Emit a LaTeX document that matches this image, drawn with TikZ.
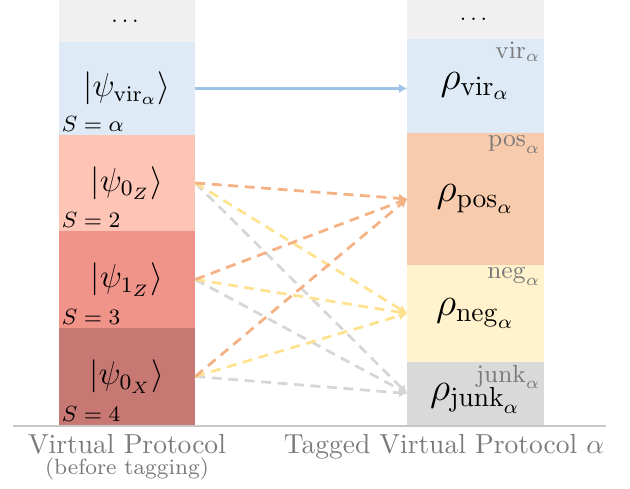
\documentclass[tikz,border=0pt]{standalone}
\usepackage{amsmath, amssymb}
\usepackage{tikz}
\usetikzlibrary{positioning, arrows.meta}
\definecolor{dotsgray}{RGB}{240,240,240}
\definecolor{virblue}{RGB}{222,234,246}
\definecolor{zerozred}{RGB}{254,196,181}
\definecolor{onezred}{RGB}{240,147,137}
\definecolor{zeroxred}{RGB}{200,120,115}
\definecolor{posorange}{RGB}{248,203,173}
\definecolor{negyellow}{RGB}{255,242,204}
\definecolor{junkgray}{RGB}{217,217,217}
\definecolor{virline}{RGB}{157,195,230}
\definecolor{posline}{RGB}{244,177,131}
\definecolor{negline}{RGB}{255,226,143}
\definecolor{junkline}{RGB}{214,214,214}
\definecolor{axisgray}{RGB}{200,200,200}
\definecolor{labelgray}{RGB}{122,122,122}

\begin{document}
\begin{tikzpicture}[>={Latex[length=3pt,width=3.4pt]},
  band/.style={inner sep=0pt, outer sep=0pt, minimum width=1.745cm},
  slabel/.style={anchor=south west, inner sep=1pt, font=\footnotesize},
  tag/.style={anchor=north east, inner sep=1pt, font=\small, text=labelgray},
  tagline/.style={->, line width=1pt, dash pattern=on 3.6pt off 2.4pt},
  caption/.style={anchor=base, text=labelgray}]

\useasboundingbox (0,0) rectangle (8.046,6.245);

% Virtual protocol (left column)
\node[band, fill=dotsgray, minimum height=0.536cm, font=\footnotesize] (ldots) at (1.622,5.977) {$\dots$};
\node[band, fill=virblue, minimum height=1.188cm, font=\large, below=0pt of ldots] (lvir) {$|\psi_{\mathrm{vir}_\alpha}\rangle$};
\node[band, fill=zerozred, minimum height=1.226cm, font=\large, below=0pt of lvir] (lzeroz) {$|\psi_{0_Z}\rangle$};
\node[band, fill=onezred, minimum height=1.239cm, font=\large, below=0pt of lzeroz] (lonez) {$|\psi_{1_Z}\rangle$};
\node[band, fill=zeroxred, minimum height=1.239cm, font=\large, below=0pt of lonez] (lzerox) {$|\psi_{0_X}\rangle$};

% Values of S
\node[slabel] (svir) at (lvir.south west) {$S=\alpha$};
\node[slabel] (szeroz) at (lzeroz.south west) {$S=2$};
\node[slabel] (sonez) at (lonez.south west) {$S=3$};
\node[slabel] (szerox) at (lzerox.south west) {$S=4$};

% Tagged virtual protocol (right column)
\node[band, fill=dotsgray, minimum height=0.498cm, font=\footnotesize] (rdots) at (6.073,5.996) {$\dots$};
\node[band, fill=virblue, minimum height=1.2cm, font=\Large, below=0pt of rdots] (rvir) {$\rho_{\mathrm{vir}_\alpha}$};
\node[band, fill=posorange, minimum height=1.686cm, font=\Large, below=0pt of rvir] (rpos) {$\rho_{\mathrm{pos}_\alpha}$};
\node[band, fill=negyellow, minimum height=1.239cm, font=\Large, below=0pt of rpos] (rneg) {$\rho_{\mathrm{neg}_\alpha}$};
\node[band, fill=junkgray, minimum height=0.805cm, font=\Large, text height=9.8pt, below=0pt of rneg] (rjunk) {$\rho_{\mathrm{junk}_\alpha}$};

% Tags
\node[tag] (tvir) at (rvir.north east) {$\mathrm{vir}_\alpha$};
\node[tag] (tpos) at (rpos.north east) {$\mathrm{pos}_\alpha$};
\node[tag] (tneg) at (rneg.north east) {$\mathrm{neg}_\alpha$};
\node[tag] (tjunk) at (rjunk.north east) {$\mathrm{junk}_\alpha$};

% Arrows
\draw[->, virline, line width=0.8pt] (lvir.east) -- (lvir.east -| rvir.west);
\foreach \src in {lzeroz, lonez, lzerox} {
    \draw[tagline, junkline] (\src.east) -- (rjunk.west);
    \draw[tagline, negline] (\src.east) -- (rneg.west);
    \draw[tagline, posline] (\src.east) -- (rpos.west);
}

% Base line and captions
\draw[axisgray, line width=0.8pt] (0.166,0.805) -- (7.739,0.805);
\node[caption] (vptitle) at (1.622,0.455) {Virtual Protocol};
\node[caption, font=\footnotesize] (vpnote) at (1.622,0.179) {(before tagging)};
\node[caption] (tvptitle) at (5.671,0.455) {Tagged Virtual Protocol $\alpha$};

\end{tikzpicture}
\end{document}
